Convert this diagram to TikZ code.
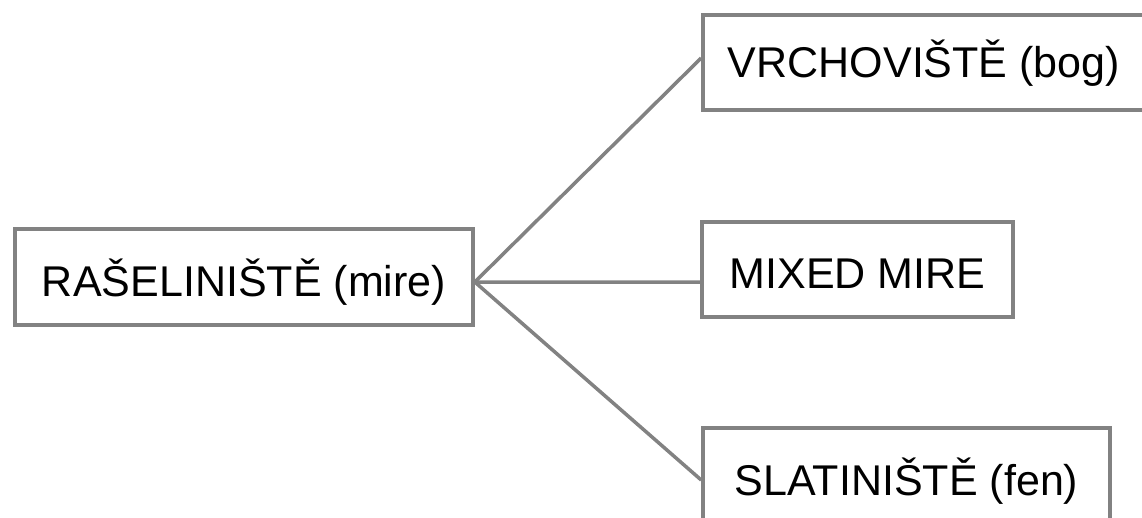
\documentclass[tikz,border=0pt]{standalone}
\usepackage{fontspec}
\setmainfont{Liberation Sans}
\usepackage{tikz}
\usetikzlibrary{positioning}
\definecolor{edge}{RGB}{130,130,130}

\begin{document}
\begin{tikzpicture}[x=0.025cm, y=-0.025cm,
    main/.style = {rectangle, draw=edge, line width=2.5pt, inner sep=0pt, text depth=0pt,
                   font=\fontsize{30.6}{36}\selectfont, minimum height=2.375cm},
    link/.style = {draw=edge, line width=2.5pt}]
        \useasboundingbox (0,0) rectangle (1142,518);
        \clip (0,0) rectangle (1142,518);
        \node[main, minimum width=11.45cm, minimum height=2.4cm, text height=0.985cm] (mire) at (244,277) {RAŠELINIŠTĚ (mire)};
        \node[main, minimum width=11.05cm, text height=0.76cm] (bog) at (924,62.5) {VRCHOVIŠTĚ (bog)};
        \node[main, minimum width=7.775cm, text height=0.94cm] (mixed) at (857.5,269.5) {MIXED MIRE};
        \node[main, minimum width=10.175cm, text height=0.975cm] (fen) at (906.5,475.5) {SLATINIŠTĚ (fen)}; % runs past the bottom edge
        \draw[link] ([yshift=-3.56pt]mire.east) -- ([yshift=3.2pt]bog.west);
        \draw[link] ([yshift=-3.56pt]mire.east) -- ([yshift=-8.9pt]mixed.west);
        \draw[link] ([yshift=-3.56pt]mire.east) -- ([yshift=-3.2pt]fen.west);
\end{tikzpicture}
\end{document}
